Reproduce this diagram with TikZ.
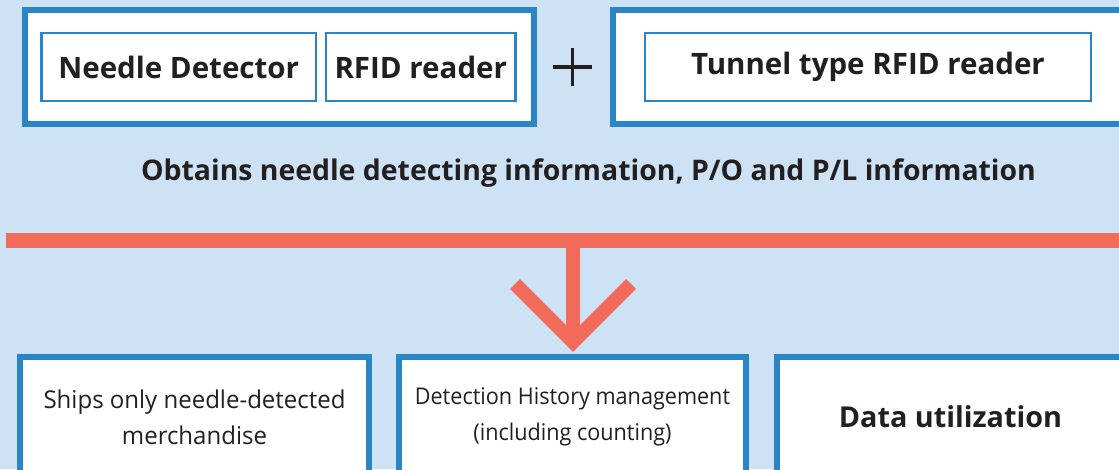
\documentclass[tikz,border=0pt]{standalone}
\usepackage{fontspec}
\setmainfont{Open Sans}
\newfontfamily\condfont[FakeStretch=0.98]{Open Sans}
\newfontfamily\condfontb[FakeStretch=0.94]{Open Sans}
\definecolor{bgblue}{HTML}{CDE3F5}
\definecolor{boxblue}{HTML}{2A84C8}
\definecolor{arrowred}{HTML}{F26A5A}
\definecolor{ink}{HTML}{231F20}
\tikzset{
  outerbox/.style={draw=boxblue, fill=white, line width=6pt, inner sep=0pt},
  innerbox/.style={draw=boxblue, fill=white, line width=2.5pt, inner sep=0pt, minimum height=68pt, text=ink, font=\bfseries\fontsize{29.5}{34}\selectfont},
  resultbox/.style={draw=boxblue, fill=white, line width=6pt, inner sep=0pt, minimum height=120pt, text=ink, align=center},
  redline/.style={draw=arrowred, line width=15pt},
  redarrow/.style={draw=arrowred, line width=14pt, miter limit=10}
}
\begin{document}
\begin{tikzpicture}[x=1pt,y=-1pt]
\useasboundingbox (0,0) rectangle (1119,469);
\clip (0,0) rectangle (1119,469);
\fill[bgblue] (0,0) rectangle (1119,469);
% top groups
\node[outerbox, minimum width=509pt, minimum height=114pt] (g1) at (279.5,67) {};
\node[outerbox, minimum width=517pt, minimum height=114pt] (g2) at (871.5,67) {};
\node[innerbox, minimum width=274.5pt] (needle) at (178.75,67) {Needle Detector};
\node[innerbox, minimum width=189.5pt] (rfid) at (420.75,67) {RFID reader};
\node[innerbox, minimum width=446pt] (tunnel) at (868,67) {Tunnel type RFID reader};
\coordinate (plus) at (572.5,67);
\draw[ink, line width=3.5pt] ([xshift=-19.5pt]plus) -- ([xshift=19.5pt]plus)
  ([yshift=-19pt]plus) -- ([yshift=19pt]plus);
\node[text=ink, font=\bfseries\fontsize{28.4}{32}\selectfont] (obtain) at (588.5,173)
  {Obtains needle detecting information, P/O and P/L information};
% red bus and arrow
\coordinate (busL) at (6,240.5);
\coordinate (busR) at (1130,240.5);
\coordinate (busM) at (573,240.5);
\coordinate (tip) at (573,342);
\coordinate (armL) at (515,284);
\coordinate (armR) at (631,284);
\draw[redline] (busL) -- (busR);
\draw[redarrow] (busM) -- (tip);
\draw[redarrow] (armL) -- (tip) -- (armR);
% result boxes
\node[resultbox, minimum width=349pt, font=\condfont\fontsize{24.5}{36}\selectfont] (ships) at (194.5,417)
  {Ships only needle-detected\\merchandise};
\node[resultbox, minimum width=347pt, font=\condfontb\fontsize{23}{36}\selectfont] (history) at (572.5,417)
  {Detection History management\\(including counting)};
\node[resultbox, minimum width=353pt, font=\bfseries\fontsize{28.8}{32}\selectfont] (data) at (953.5,417)
  {\hspace*{-6pt}Data utilization};
\end{tikzpicture}
\end{document}
